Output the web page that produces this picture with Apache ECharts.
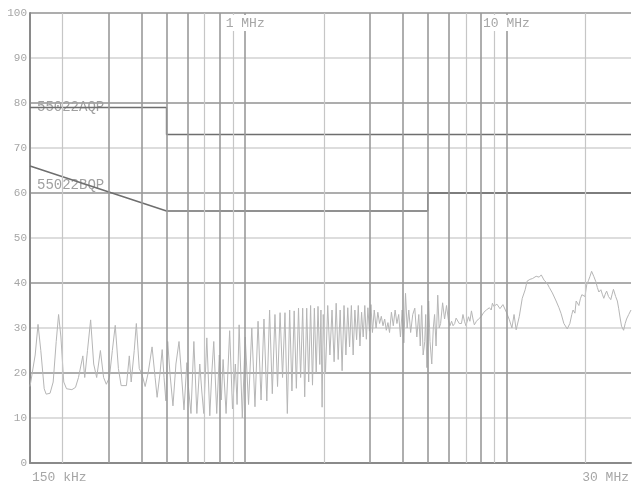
<!DOCTYPE html>
<html>
<head>
<meta charset="utf-8">
<script src="https://cdn.jsdelivr.net/npm/echarts@6/dist/echarts.min.js"></script>
<style>html,body{margin:0;padding:0;background:#fff;}#c{width:632px;height:484px;}</style>
</head>
<body>
<div id="c"></div>
<script>
// ---- data ----
const yTicks = [0, 10, 20, 30, 40, 50, 60, 70, 80, 90, 100];
const gridFreqs = [0.2, 0.3, 0.4, 0.5, 0.6, 0.7, 0.8, 0.9, 1, 2, 3, 4, 5, 6, 7, 8, 9, 10, 20];
const lightGridFreqs = [0.2, 0.7, 0.9, 2, 7, 9, 20];
const xEndLabels = ['150 kHz', '30 MHz'];
const xTopLabels = ['1 MHz', '10 MHz'];
const limitNames = ['55022AQP', '55022BQP'];
const limitAFreq = [0.15, 0.5, 0.5, 30];
const limitAdB = [79, 79, 73, 73];
const limitBFreq = [0.15, 0.5, 5, 5, 30];
const limitBdB = [66, 56, 56, 60, 60];

const freqMHz = [
  0.150,0.157,0.161,0.165,0.170,0.173,0.179,0.184,0.189,0.193,0.197,0.202,0.207,0.217,0.224,0.230,0.239,0.243,0.249,0.256,
  0.263,0.270,0.279,0.287,0.294,0.302,0.310,0.318,0.327,0.335,0.351,0.360,0.366,0.376,0.383,0.393,0.403,0.414,0.425,0.440,
  0.452,0.460,0.472,0.481,0.489,0.497,0.505,0.515,0.529,0.543,0.558,0.573,0.583,0.598,0.606,0.620,0.636,0.653,0.670,0.682,
  0.694,0.713,0.732,0.745,0.758,0.778,0.796,0.810,0.823,0.845,0.872,0.894,0.917,0.931,0.948,0.975,
  1.000,1.030,1.060,1.090,1.120,1.150,1.180,1.210,1.240,1.270,1.300,1.330,1.360,1.390,1.420,1.450,1.480,1.510,1.540,1.570,
  1.600,1.630,1.660,1.690,1.720,1.750,1.780,1.810,1.840,1.870,1.900,1.930,1.950,1.970,1.990,
  2.03,2.07,2.11,2.15,2.19,2.23,2.27,2.31,2.35,2.39,2.43,2.47,2.51,2.55,2.59,2.63,2.67,2.71,2.75,2.79,
  2.83,2.87,2.91,2.95,2.99,3.03,3.07,3.12,3.17,3.22,3.27,3.32,3.37,3.42,3.47,3.52,3.57,3.63,3.69,3.75,
  3.81,3.87,3.93,3.99,4.05,4.11,4.17,4.23,4.30,4.38,
  4.46,4.54,4.62,4.68,4.74,4.80,4.87,4.91,4.96,5.04,5.10,5.18,5.25,5.31,5.38,5.46,5.53,5.60,5.70,5.80,
  5.90,6.00,6.08,6.17,6.25,6.34,6.42,6.50,6.60,6.73,6.82,6.91,7.00,7.16,7.25,7.35,7.45,7.54,7.68,7.82,
  8.00,8.20,8.38,8.61,8.75,8.84,8.95,9.07,9.20,9.31,9.45,9.56,9.70,9.81,10.0,
  10.27,10.5,10.7,10.9,11.2,11.5,11.8,12.0,12.3,12.6,13.0,13.35,13.6,13.95,14.3,14.6,15.0,15.5,15.9,16.2,
  16.6,17.1,17.5,17.8,18.0,18.3,18.5,18.95,19.2,19.45,20.0,20.3,20.6,20.9,21.2,21.6,22.0,22.3,22.6,23.0,
  23.3,23.6,23.9,24.2,24.6,25.1,25.4,25.7,26.2,26.6,26.9,27.3,27.6,28.1,28.5,28.85,29.4,30.0
];
const levelDb = [
  17,24,30.8,25,16.5,15.3,15.5,18,27,33,28,18,16.5,16.3,16.8,19,23.8,19,25,31.8,
  22,19,25,19,17.5,19,25,30.6,21,17.2,17.2,23.8,18,25,31,21,19.6,17,20,25.8,
  19,14.6,20,25.2,19,13.8,27,20,12.7,22,27,18,11.8,22.3,17,11,27,11,22,16,
  11,27.8,10.5,20,27,11,24,14,23,11,29.4,12,22,13,30.7,10,
  28,13,30,12.5,31.5,14,32,13.8,34,15.4,33,17,33.4,19,33.4,11,34,16,33.8,16.6,
  34.4,19,34.4,14.7,34.4,18,35,17.3,34.4,20,34.8,21.9,34,12.4,33,
  20,35,24,34,22.5,35.5,23,34,20.5,35,24,34.5,25.8,35,24,34,27.4,35,26,33.5,
  28,35,27.5,34.5,29.3,35.2,29,34,30,33.5,31,32.6,30.5,32,29.5,31.2,29,33.5,30.5,34,
  31,33,28,34,26.7,37.7,30,34,29,33,
  34.4,28,33,26,35,24,27,33,21.2,36,27,22,30,33,26,37.3,30,31,35.6,32,
  35,31.7,30.5,31.5,30.5,31,32.2,32,31,31,33,31.5,30.5,32.5,31.5,33.8,32,30.7,31.5,32,
  32.5,33.5,34,34.5,34,35.5,34.8,34.5,35.3,35,34.3,34.5,35.2,35,33.5,
  31.8,30,33,29.6,32.5,36.6,38.5,40.4,40.8,41,41.5,41.3,41.8,40.6,40,39,37.8,36,34.5,33.2,
  31,29.8,31,33,34,33.3,36,35,36.5,37.4,37,39.6,40.5,41.5,42.6,41.5,40.3,39,38,38.5,
  37.5,36.6,37.5,38.2,37,36.3,37.5,38.6,37,36,34.4,32,30.4,29.5,31,32,33,34
];

// ---- build ----
const FONT = '"Liberation Mono","Courier New",monospace';
const traceData = freqMHz.map((f, i) => [f, levelDb[i]]);
const limitA = limitAFreq.map((f, i) => [f, limitAdB[i]]);
const limitB = limitBFreq.map((f, i) => [f, limitBdB[i]]);
const near = (a, b) => Math.abs(a - b) / b < 1e-6;

const vLines = gridFreqs.map(f => {
  const light = lightGridFreqs.indexOf(f) >= 0;
  return { xAxis: f, lineStyle: { color: light ? '#c6c6c6' : '#9a9a9a', width: light ? 1.2 : 1.6, type: 'solid' } };
});

const chart = echarts.init(document.getElementById('c'), null, { renderer: 'canvas' });
chart.setOption({
  animation: false,
  backgroundColor: '#fff',
  grid: { left: 30, top: 13, width: 605, height: 453, containLabel: false },
  xAxis: [
    {
      type: 'log', logBase: 10, min: 0.15, max: 30, position: 'bottom',
      axisLine: { show: true, lineStyle: { color: '#8a8a8a', width: 2 } },
      axisTick: { show: false },
      splitLine: { show: false },
      minorTick: { show: false },
      axisLabel: {
        show: true, showMinLabel: true, showMaxLabel: true,
        alignMinLabel: 'left', alignMaxLabel: 'right',
        color: '#a6a6a6', fontFamily: FONT, fontSize: 13, margin: 8,
        padding: [0, 2, 0, 2],
        formatter: v => near(v, 0.15) ? xEndLabels[0] : (near(v, 30) ? xEndLabels[1] : '')
      }
    },
    {
      type: 'log', logBase: 10, min: 0.15, max: 30, position: 'top', z: 10,
      axisLine: { show: false }, axisTick: { show: false }, splitLine: { show: false },
      axisLabel: {
        show: true, inside: true, margin: 2, showMinLabel: false, showMaxLabel: false,
        color: '#a6a6a6', fontFamily: FONT, fontSize: 13,
        backgroundColor: '#fff', padding: [2, 1, 1, 1],
        formatter: v => near(v, 1) ? xTopLabels[0] : (near(v, 10) ? xTopLabels[1] : '')
      }
    }
  ],
  yAxis: {
    type: 'value', min: yTicks[0], max: yTicks[yTicks.length - 1], interval: 10,
    axisLine: { show: true, lineStyle: { color: '#8a8a8a', width: 2 } },
    axisTick: { show: false },
    axisLabel: { color: '#a6a6a6', fontFamily: FONT, fontSize: 11, margin: 3 },
    splitLine: { show: true, lineStyle: { color: ['#929292', '#d2d2d2'], width: 1.5 } }
  },
  series: [
    {
      type: 'line', xAxisIndex: 0, data: [], z: 1, silent: true,
      markLine: { silent: true, symbol: ['none', 'none'], label: { show: false }, animation: false, data: vLines }
    },
    {
      type: 'line', xAxisIndex: 0, data: traceData, z: 3, showSymbol: false, silent: true,
      lineStyle: { color: '#b6b6b6', width: 1 }
    },
    {
      type: 'line', xAxisIndex: 0, data: limitA, z: 4, showSymbol: false, silent: true,
      lineStyle: { color: '#6e6e6e', width: 1.5 }
    },
    {
      type: 'line', xAxisIndex: 0, data: limitB, z: 4, showSymbol: false, silent: true,
      lineStyle: { color: '#6e6e6e', width: 1.5 }
    }
  ]
});

const pA = chart.convertToPixel({ xAxisIndex: 0, yAxisIndex: 0 }, [limitAFreq[0], limitAdB[0]]);
const pB = chart.convertToPixel({ xAxisIndex: 0, yAxisIndex: 0 }, [limitBFreq[0], 61.8]);
chart.setOption({
  graphic: [
    { type: 'text', x: pA[0] + 7, y: pA[1], z: 2, style: { text: limitNames[0], fill: '#a0a0a0', font: '14px ' + FONT, verticalAlign: 'middle' } },
    { type: 'text', x: pB[0] + 7, y: pB[1], z: 2, style: { text: limitNames[1], fill: '#a0a0a0', font: '14px ' + FONT, verticalAlign: 'middle' } }
  ]
});
</script>
</body>
</html>
